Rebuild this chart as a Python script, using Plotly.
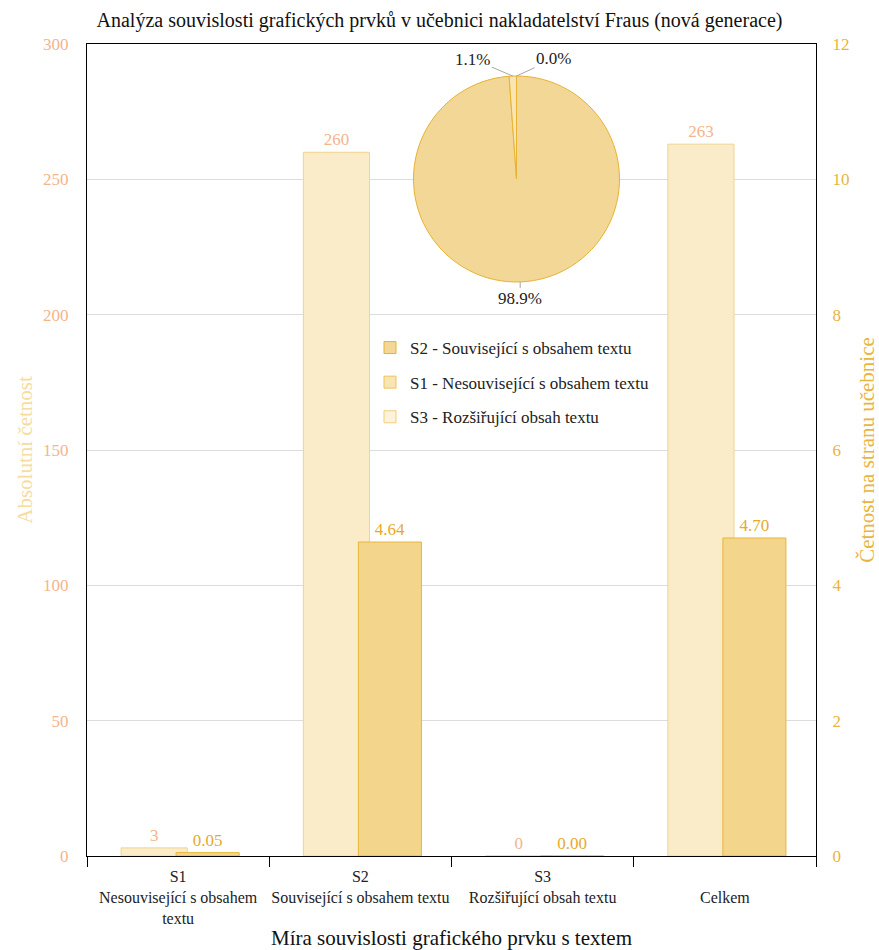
import math
import plotly.graph_objects as go

categories = ["S1<br>Nesouvisející s obsahem<br>textu",
              "S2<br>Související s obsahem textu",
              "S3<br>Rozšiřující obsah textu",
              " <br>Celkem"]
absolute = [3, 260, 0, 263]
per_page = [0.05, 4.64, 0.00, 4.70]

pie_labels = ["S2 - Související s obsahem textu",
              "S1 - Nesouvisející s obsahem textu",
              "S3 - Rozšiřující obsah textu"]
pie_values = [260, 3, 0]

FONT = "Liberation Serif"
W, H = 879, 950
L, R, T, B = 87, 63, 44, 94
PW, PH = W - L - R, H - T - B

def px2paper(x, y):
    return (x - L) / PW, (H - B - y) / PH

fig = go.Figure()

fig.add_trace(go.Bar(
    x=categories, y=absolute, name="Absolutní četnost",
    offset=-0.313, width=0.363,
    marker=dict(color="#fbecc9", line=dict(color="#f0d48e", width=1)),
    text=absolute, texttemplate="%{y:.0f}", textposition="outside",
    textfont=dict(color="#f4b48c", size=17, family=FONT),
    cliponaxis=False, constraintext="none", showlegend=False,
))
fig.add_trace(go.Bar(
    x=categories, y=per_page, name="Četnost na stranu učebnice", yaxis="y2",
    offset=-0.011, width=0.346,
    marker=dict(color="#f3d58b", line=dict(color="#e9b53c", width=1)),
    text=per_page, texttemplate="%{y:.2f}", textposition="outside",
    textfont=dict(color="#e8a92a", size=17, family=FONT),
    cliponaxis=False, constraintext="none", showlegend=False,
))

pie_colors = ["#f2d796", "#f8e5b3", "#fdf3dd"]
cx, cy, r = 516.5, 179, 103
x0, y0 = px2paper(cx - r, cy + r)
x1, y1 = px2paper(cx + r, cy - r)
fig.add_trace(go.Pie(
    labels=pie_labels, values=pie_values, sort=False, direction="clockwise",
    rotation=0, textinfo="none", showlegend=False, hoverinfo="label+value+percent",
    marker=dict(colors=pie_colors, line=dict(color="#e8b232", width=1)),
    domain=dict(x=[x0, x1], y=[y0, y1]),
))

# legend entries (pie categories)
leg_border = ["#e8b232", "#eec45a", "#f0cf78"]
for i, lab in enumerate(pie_labels):
    fig.add_trace(go.Bar(
        x=[None], y=[None], name=lab, legendgroup=f"g{i}",
        marker=dict(color=pie_colors[i], line=dict(color=leg_border[i], width=1)),
    ))

# pie percentage labels with leader lines
total = sum(pie_values)
start = 90.0
annotations = []
offsets = [(0, 17), (-40, -17), (37, -17)]
for i, v in enumerate(pie_values):
    sweep = v / total * 360
    mid = start - sweep / 2
    start -= sweep
    px = cx + r * math.cos(math.radians(mid))
    py = cy - r * math.sin(math.radians(mid))
    ax_, ay_ = offsets[i]
    xp, yp = px2paper(px, py)
    annotations.append(dict(
        x=xp, y=yp, xref="paper", yref="paper", text=f"{v / total * 100:.1f}%",
        showarrow=True, arrowhead=0, arrowwidth=1, arrowcolor="#a6a6a6",
        ax=ax_, ay=ay_, font=dict(size=17, family=FONT, color="#222222"),
    ))

fig.update_layout(
    width=W, height=H,
    margin=dict(l=L, r=R, t=T, b=B, autoexpand=False),
    paper_bgcolor="white", plot_bgcolor="white",
    barmode="overlay",
    font=dict(family=FONT, size=16, color="#222222"),
    title=dict(text="Analýza souvislosti grafických prvků v učebnici nakladatelství Fraus (nová generace)",
               x=0.5, xanchor="center", y=0.979, yanchor="middle",
               font=dict(size=20, family=FONT, color="#111111")),
    xaxis=dict(
        showline=True, linecolor="black", linewidth=1, mirror=True,
        ticks="outside", tickson="boundaries", ticklen=10, tickcolor="black",
        tickangle=0,
        tickfont=dict(size=16, family=FONT, color="#222222"), ticklabelstandoff=6,
        title=dict(text="Míra souvislosti grafického prvku s textem",
                   font=dict(size=21, family=FONT, color="#111111"), standoff=7),
        automargin=False,
    ),
    yaxis=dict(
        range=[0, 300], dtick=50, showgrid=True, gridcolor="#dcdcdc", zeroline=False,
        showline=True, linecolor="black", linewidth=1,
        tickfont=dict(size=17, family=FONT, color="#f4b48c"), ticklabelstandoff=14,
        title=dict(text="Absolutní četnost", font=dict(size=21, family=FONT, color="#f6dca0"),
                   standoff=4),
        automargin=False,
    ),
    yaxis2=dict(
        range=[0, 12], dtick=2, overlaying="y", side="right", showgrid=False, zeroline=False,
        showline=True, linecolor="black", linewidth=1,
        tickfont=dict(size=17, family=FONT, color="#e9b440"), ticklabelstandoff=12,
        title=dict(text="Četnost na stranu učebnice", font=dict(size=21, family=FONT, color="#e9b440"),
                   standoff=10),
        automargin=False,
    ),
    legend=dict(x=(370 - L) / PW, y=(856 - 330) / PH, xanchor="left", yanchor="top",
                bgcolor="rgba(0,0,0,0)", tracegroupgap=9.5,
                font=dict(size=17, family=FONT, color="#222222")),
    annotations=annotations,
)

fig.write_html("out.html", config={"displayModeBar": False},
               post_script="document.body.style.margin='0px';document.body.style.overflow='hidden';")
